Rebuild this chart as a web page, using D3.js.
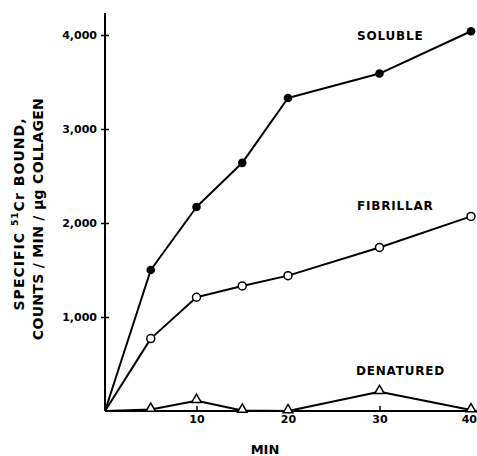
<!DOCTYPE html>
<html>
<head>
<meta charset="utf-8">
<script src="https://cdn.jsdelivr.net/npm/d3@7"></script>
<style>
  html, body { margin: 0; padding: 0; background: #fff; }
  svg { display: block; }
  text { font-family: "DejaVu Sans", sans-serif; fill: #000; }
</style>
</head>
<body>
<svg id="chart" width="477" height="456"></svg>
<script>
// ---- data ----
const minutes = [0, 5, 10, 15, 20, 30, 40];
const soluble = [0, 1500, 2170, 2640, 3330, 3590, 4040];
const fibrillar = [0, 770, 1210, 1330, 1440, 1740, 2070];
const denatured = [0, 15, 110, 5, 0, 205, 10];
const seriesNames = ["SOLUBLE", "FIBRILLAR", "DENATURED"];
const xTicks = [10, 20, 30, 40];
const yTicks = [1000, 2000, 3000, 4000];
const xTitle = "MIN";
const yTitle1 = ["SPECIFIC ", "51", "Cr BOUND,"];
const yTitle2 = "COUNTS / MIN / µg COLLAGEN";

// ---- layout ----
const svg = d3.select("#chart");
const x = d3.scaleLinear().domain([0, 40]).range([105, 471]);
const y = d3.scaleLinear().domain([0, 4000]).range([411, 35]);

// y axis
const gy = svg.append("g").attr("transform", `translate(${x(0)},0)`)
  .call(d3.axisLeft(y).tickValues(yTicks).tickFormat(d3.format(",")).tickSize(4).tickPadding(4));
gy.select(".domain").remove();
gy.selectAll(".tick line").attr("x1", -4).attr("x2", 4).attr("stroke-width", 1.5);
gy.selectAll(".tick text").attr("font-size", 11).attr("font-weight", "bold")
  .attr("font-family", "DejaVu Sans");
svg.append("line").attr("x1", x(0)).attr("x2", x(0)).attr("y1", 13).attr("y2", y(0))
  .attr("stroke", "#000").attr("stroke-width", 2);

// x axis
const gx = svg.append("g").attr("transform", `translate(0,${y(0)})`)
  .call(d3.axisBottom(x).tickValues(xTicks).tickSize(-5).tickPadding(4));
gx.select(".domain").remove();
gx.selectAll(".tick line").attr("stroke-width", 1.5);
gx.selectAll(".tick text").attr("font-size", 11).attr("font-weight", "bold")
  .attr("font-family", "DejaVu Sans");
// last label sits against the right edge
gx.selectAll(".tick text").filter(d => d === 40).attr("text-anchor", "end").attr("x", 5.5);
svg.append("line").attr("x1", x(0)).attr("x2", 477).attr("y1", y(0)).attr("y2", y(0))
  .attr("stroke", "#000").attr("stroke-width", 2);

// axis titles
svg.append("text").attr("x", 265).attr("y", 454).attr("text-anchor", "middle")
  .attr("font-size", 13).attr("font-weight", "bold").text(xTitle);

function spread(t, target, n) {
  const len = t.node().getComputedTextLength();
  t.attr("letter-spacing", Math.max(0, (target - len) / n));
}
const yt = svg.append("text").attr("transform", "translate(24,214) rotate(-90)")
  .attr("text-anchor", "middle").attr("font-size", 14).attr("font-weight", "bold");
yt.append("tspan").text(yTitle1[0]);
yt.append("tspan").attr("font-size", 9).attr("dy", -6).text(yTitle1[1]);
yt.append("tspan").attr("dy", 6).text(yTitle1[2]);
spread(yt, 192, 19);
const yt2 = svg.append("text").attr("transform", "translate(43,219) rotate(-90)")
  .attr("text-anchor", "middle").attr("font-size", 14).attr("font-weight", "bold")
  .text(yTitle2);
spread(yt2, 242, 25);

// lines
const line = d3.line().x((d, i) => x(minutes[i])).y(d => y(d));
[soluble, fibrillar, denatured].forEach(s => {
  svg.append("path").attr("d", line(s)).attr("fill", "none")
    .attr("stroke", "#000").attr("stroke-width", 2).attr("stroke-linejoin", "round");
});

// markers
svg.append("g").selectAll("circle").data(soluble.slice(1)).join("circle")
  .attr("cx", (d, i) => x(minutes[i + 1])).attr("cy", d => y(d)).attr("r", 4.3)
  .attr("fill", "#000");
svg.append("g").selectAll("circle").data(fibrillar.slice(1)).join("circle")
  .attr("cx", (d, i) => x(minutes[i + 1])).attr("cy", d => y(d)).attr("r", 4)
  .attr("fill", "#fff").attr("stroke", "#000").attr("stroke-width", 1.5);
const tri = d3.symbol().type(d3.symbolTriangle).size(40);
svg.append("g").selectAll("path").data(denatured.slice(1)).join("path")
  .attr("d", tri)
  .attr("transform", (d, i) => `translate(${x(minutes[i + 1])},${y(d) - 1})`)
  .attr("fill", "#fff").attr("stroke", "#000").attr("stroke-width", 1.5);

// series labels
const labelPos = [[357, 40], [357, 210], [356, 375]];
seriesNames.forEach((n, i) => {
  svg.append("text").attr("x", labelPos[i][0]).attr("y", labelPos[i][1])
    .attr("font-size", 12).attr("font-weight", "bold").attr("letter-spacing", 0.8).text(n);
});
</script>
</body>
</html>
